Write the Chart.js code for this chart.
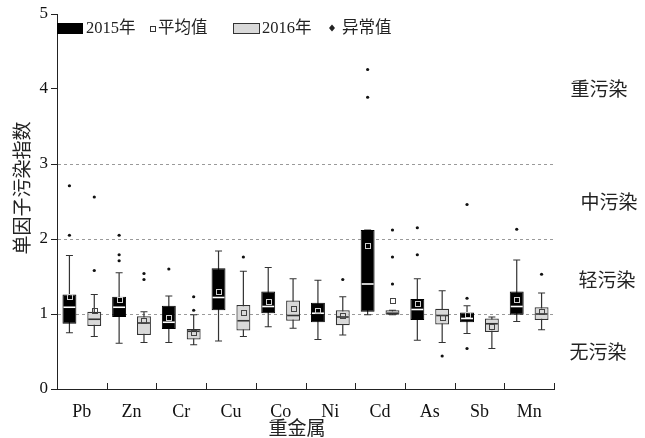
<!DOCTYPE html>
<html><head><meta charset="utf-8">
<script src="https://cdn.jsdelivr.net/npm/chart.js@4"></script>
<style>html,body{margin:0;padding:0;background:#fff}</style>
</head><body>
<canvas id="c" width="645" height="438"></canvas>
<script>
const categories = ['Pb','Zn','Cr','Cu','Co','Ni','Cd','As','Sb','Mn'];
const yTicks = [0,1,2,3,4,5];

const min2015  = [0.75,0.61,0.62,0.64,0.83,0.66,0.99,0.65,0.74,0.90];
const q1_2015  = [0.87,0.96,0.80,1.05,1.01,0.89,1.03,0.92,0.89,0.99];
const med2015  = [1.09,1.09,0.89,1.22,1.10,1.01,1.40,1.06,0.94,1.10];
const q3_2015  = [1.26,1.23,1.11,1.61,1.30,1.15,2.12,1.20,1.02,1.30];
const max2015  = [1.78,1.55,1.24,1.84,1.62,1.45,2.12,1.47,1.11,1.72];
const mean2015 = [1.23,1.19,0.96,1.30,1.17,1.05,1.92,1.14,1.00,1.20];
const out2015  = [[2.71,2.05],[2.05,1.79,1.71],[1.60],[],[],[],[4.26,3.89],[2.15,1.79],[2.46,1.21,0.54],[2.13]];

const min2016  = [0.70,0.62,0.59,0.70,0.81,0.72,0.99,0.62,0.54,0.79];
const q1_2016  = [0.84,0.72,0.66,0.78,0.91,0.85,0.99,0.86,0.76,0.92];
const med2016  = [0.93,0.88,0.77,0.91,0.98,0.96,1.01,0.98,0.87,1.00];
const q3_2016  = [1.03,0.97,0.80,1.12,1.18,1.05,1.05,1.07,0.94,1.09];
const max2016  = [1.26,1.03,0.99,1.57,1.47,1.23,1.05,1.31,0.96,1.28];
const mean2016 = [1.05,0.91,0.76,1.02,1.08,0.98,1.18,0.96,0.83,1.04];
const out2016  = [[2.56,1.58],[1.54,1.46],[1.23,1.05],[1.76],[],[1.46],[2.12,1.76,1.40],[0.44],[],[1.53]];

const refLines = [1,2,3];
const zoneLabels = ['重污染','中污染','轻污染','无污染'];
const zoneValues = [3.97,2.47,1.43,0.47];
const zoneX = [599,609,607,598];

const FONT = '"Liberation Serif", "Noto Sans CJK SC", serif';

const series = [
  {min:min2015,q1:q1_2015,med:med2015,q3:q3_2015,max:max2015,mean:mean2015,out:out2015,medColor:'#ffffff',meanColor:'#cfcfcf'},
  {min:min2016,q1:q1_2016,med:med2016,q3:q3_2016,max:max2016,mean:mean2016,out:out2016,medColor:'#333333',meanColor:'#444444'}
];

const boxPlugin = {
  id:'boxExtras',
  beforeDatasetsDraw(chart){
    const {ctx, chartArea:a, scales:{y}} = chart;
    ctx.save();
    ctx.strokeStyle = '#9a9a9a'; ctx.lineWidth = 1; ctx.setLineDash([3,3]);
    refLines.forEach(v=>{
      const py = Math.round(y.getPixelForValue(v))+0.5;
      ctx.beginPath(); ctx.moveTo(a.left+1,py); ctx.lineTo(a.right,py); ctx.stroke();
    });
    ctx.setLineDash([]);
    ctx.strokeStyle = '#333'; ctx.lineWidth = 1.2;
    series.forEach((s,d)=>{
      chart.getDatasetMeta(d).data.forEach((bar,i)=>{
        const x = bar.x;
        const yl = y.getPixelForValue(s.min[i]), yh = y.getPixelForValue(s.max[i]);
        if (Math.abs(yl-yh) < 0.5) return;
        ctx.beginPath();
        ctx.moveTo(x,yl); ctx.lineTo(x,yh);
        ctx.moveTo(x-3.5,yl); ctx.lineTo(x+3.5,yl);
        ctx.moveTo(x-3.5,yh); ctx.lineTo(x+3.5,yh);
        ctx.stroke();
      });
    });
    ctx.restore();
  },
  afterDatasetsDraw(chart){
    const {ctx, chartArea:a, scales:{x:xs,y}} = chart;
    ctx.save();
    series.forEach((s,d)=>{
      chart.getDatasetMeta(d).data.forEach((bar,i)=>{
        const x = bar.x, hw = bar.width/2;
        const pm = y.getPixelForValue(s.med[i]);
        ctx.strokeStyle = s.medColor; ctx.lineWidth = 1.6;
        ctx.beginPath(); ctx.moveTo(x-hw+1,pm); ctx.lineTo(x+hw-1,pm); ctx.stroke();
        const pmean = y.getPixelForValue(s.mean[i]);
        ctx.strokeStyle = s.meanColor; ctx.lineWidth = 1;
        ctx.strokeRect(Math.round(x-2.5)+0.5, Math.round(pmean-2.5)+0.5, 5, 5);
        ctx.fillStyle = '#111';
        s.out[i].forEach(v=>{
          const po = y.getPixelForValue(v);
          ctx.beginPath(); ctx.arc(x,po,1.6,0,Math.PI*2); ctx.fill();
        });
      });
    });
    ctx.strokeStyle = '#222'; ctx.lineWidth = 1;
    for (let i=1;i<=categories.length;i++){
      const px = i<categories.length ? (xs.getPixelForValue(i-1)+xs.getPixelForValue(i))/2 : a.right;
      const rx = Math.round(px)+0.5;
      ctx.beginPath(); ctx.moveTo(rx,a.bottom); ctx.lineTo(rx,a.bottom-6); ctx.stroke();
    }
    ctx.fillStyle = '#222'; ctx.font = '19px ' + FONT;
    ctx.textAlign = 'center'; ctx.textBaseline = 'middle';
    zoneLabels.forEach((t,i)=>{ ctx.fillText(t, zoneX[i], y.getPixelForValue(zoneValues[i])); });
    // axis titles
    ctx.fillText('重金属', 297, 430);
    ctx.save();
    ctx.translate(24, 188); ctx.rotate(-Math.PI/2);
    ctx.fillText('单因子污染指数', 0, 0);
    ctx.restore();
    // legend
    ctx.textAlign = 'left'; ctx.font = '16.5px ' + FONT;
    ctx.fillStyle = '#000'; ctx.fillRect(57,23,26,11);
    ctx.fillStyle = '#222'; ctx.fillText('2015年', 86, 28.5);
    ctx.strokeStyle = '#333'; ctx.lineWidth = 1; ctx.strokeRect(150.5,26.5,5,5);
    ctx.fillText('平均值', 158, 28.5);
    ctx.fillStyle = '#d9d9d9'; ctx.fillRect(233,23,27,11);
    ctx.strokeStyle = '#333'; ctx.strokeRect(233.5,23.5,26,10);
    ctx.fillStyle = '#222'; ctx.fillText('2016年', 262, 28.5);
    ctx.beginPath(); ctx.moveTo(332,24.5); ctx.lineTo(335,28); ctx.lineTo(332,31.5); ctx.lineTo(329,28); ctx.closePath(); ctx.fill();
    ctx.fillText('异常值', 342, 28.5);
    ctx.restore();
  }
};

new Chart(document.getElementById('c'), {
  type:'bar',
  data:{
    labels: categories,
    datasets:[
      {label:'2015年', data: q1_2015.map((v,i)=>[v,q3_2015[i]]), backgroundColor:'#000', borderColor:'#000', borderWidth:1, borderSkipped:false},
      {label:'2016年', data: q1_2016.map((v,i)=>[v,q3_2016[i]]), backgroundColor:'#d9d9d9', borderColor:'#333', borderWidth:1.2, borderSkipped:false}
    ]
  },
  options:{
    responsive:false, animation:false,
    layout:{padding:{left:0,right:91,top:14,bottom:0}},
    datasets:{bar:{categoryPercentage:1.0, barPercentage:0.56}},
    plugins:{legend:{display:false}, tooltip:{enabled:false}},
    scales:{
      x:{
        grid:{display:false, offset:true},
        border:{display:true, color:'#222', width:1},
        ticks:{font:{family:FONT,size:18}, color:'#111', padding:4},
        afterFit(s){ s.height = 49; }
      },
      y:{
        min:0, max:5,
        afterBuildTicks(s){ s.ticks = yTicks.map(v=>({value:v})); },
        grid:{drawOnChartArea:false, tickLength:6, color:'#222'},
        border:{display:true, color:'#222', width:1},
        ticks:{font:{family:FONT,size:17}, color:'#111', padding:3},
        afterFit(s){ s.width = 57; }
      }
    }
  },
  plugins:[boxPlugin]
});
</script>
</body></html>
